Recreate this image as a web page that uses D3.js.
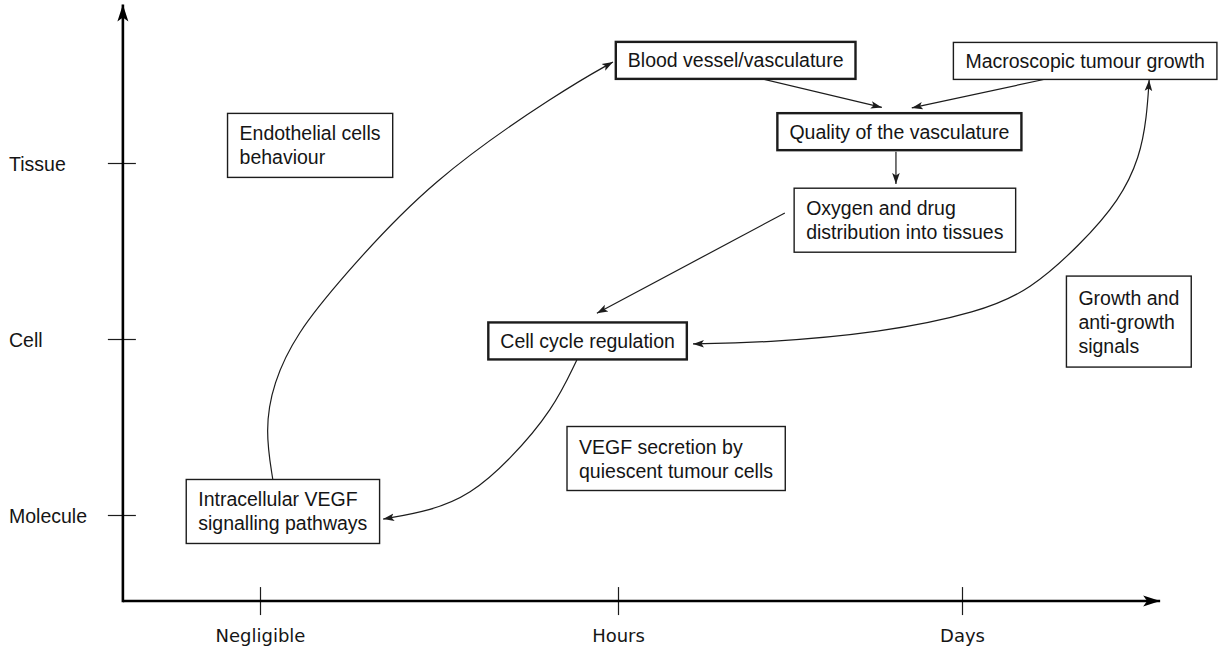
<!DOCTYPE html>
<html>
<head>
<meta charset="utf-8">
<script src="https://cdn.jsdelivr.net/npm/d3@7"></script>
<style>
  html, body { margin: 0; padding: 0; background: #fff; }
  svg { display: block; }
  .node text, .yaxis text { font-family: "Liberation Sans", Arial, sans-serif; font-size: 19.5px; fill: #151515; }
  .xaxis text { font-family: "DejaVu Sans", sans-serif; font-size: 18px; fill: #151515; }
</style>
</head>
<body>
<svg id="chart" width="1229" height="655"></svg>
<script>
// axis categories (time scale on x, biological scale on y)
const timeLabels = ['Negligible', 'Hours', 'Days'];
const scaleLabels = ['Molecule', 'Cell', 'Tissue'];

// boxes: text lines and where they sit in (time, scale) units
const nodes = [
  {id: 'endo',   lines: ['Endothelial cells', 'behaviour'],              t: 0.14,  s: 2.10},
  {id: 'blood',  lines: ['Blood vessel/vasculature'],                    t: 1.342, s: 2.583},
  {id: 'macro',  lines: ['Macroscopic tumour growth'],                   t: 2.358, s: 2.58},
  {id: 'qual',   lines: ['Quality of the vasculature'],                  t: 1.818, s: 2.178},
  {id: 'oxy',    lines: ['Oxygen and drug', 'distribution into tissues'], t: 1.834, s: 1.675},
  {id: 'cycle',  lines: ['Cell cycle regulation'],                       t: 0.915, s: 0.989},
  {id: 'growth', lines: ['Growth and', 'anti-growth', 'signals'],        t: 2.485, s: 1.099},
  {id: 'vegf',   lines: ['VEGF secretion by', 'quiescent tumour cells'],  t: 1.169, s: 0.321},
  {id: 'intra',  lines: ['Intracellular VEGF', 'signalling pathways'],   t: 0.064, s: 0.02}
];

// arrows, as points in (time, scale) units
const links = [
  {from: 'intra', to: 'blood', pts: [[0.036,0.199],[0.014,0.48],[0.036,0.75],[0.103,1.034],[0.223,1.335],[0.475,1.903],[0.846,2.415],[0.986,2.574]]},
  {from: 'blood', to: 'qual', pts: [[1.407,2.483],[1.767,2.316]]},
  {from: 'macro', to: 'qual', pts: [[2.241,2.476],[1.854,2.313]]},
  {from: 'qual', to: 'oxy', pts: [[1.808,2.064],[1.808,1.881]]},
  {from: 'oxy', to: 'cycle', pts: [[1.485,1.716],[0.941,1.146]]},
  {from: 'cycle', to: 'macro', both: true, pts: [[1.218,0.972],[1.422,0.979],[1.762,1.034],[2.052,1.153],[2.198,1.278],[2.343,1.534],[2.459,1.79],[2.517,2.034],[2.537,2.26],[2.544,2.472]]},
  {from: 'cycle', to: 'intra', pts: [[0.885,0.881],[0.818,0.597],[0.698,0.313],[0.587,0.114],[0.475,0.023],[0.344,-0.023]]}
];

const thickBoxes = ['blood', 'qual', 'cycle'];
const tExtent = [-0.383, 2.576];
const sExtent = [-0.489, 2.9];

const svg = d3.select('#chart');
const ink = '#1c1c1c';

const x = d3.scaleLinear().domain([0, 1, 2]).range([260, 618, 962]);
const y = d3.scaleLinear().domain([0, 2]).range([515, 163]);

// arrow markers
const defs = svg.append('defs');
defs.append('marker')
  .attr('id', 'head').attr('markerUnits', 'userSpaceOnUse')
  .attr('viewBox', '0 -5 12 10').attr('refX', 11).attr('refY', 0)
  .attr('markerWidth', 12).attr('markerHeight', 10)
  .attr('orient', 'auto-start-reverse')
  .append('path').attr('d', 'M0,-3.8L11,0L0,3.8L2.5,0Z').attr('fill', ink);
defs.append('marker')
  .attr('id', 'axhead').attr('markerUnits', 'userSpaceOnUse')
  .attr('viewBox', '0 -7 18 14').attr('refX', 17).attr('refY', 0)
  .attr('markerWidth', 18).attr('markerHeight', 14)
  .attr('orient', 'auto')
  .append('path').attr('d', 'M0,-5.5L17,0L0,5.5L4,0Z').attr('fill', '#000');

// axes
const y0 = y(sExtent[0]);
const x0 = x(tExtent[0]);

const xAxis = svg.append('g').attr('class', 'xaxis')
  .attr('transform', `translate(0,${y0})`)
  .call(d3.axisBottom(x).tickValues([0, 1, 2]).tickFormat(i => timeLabels[i]).tickSize(14));
xAxis.select('.domain').remove();
xAxis.selectAll('.tick line').attr('y1', -14).attr('y2', 14).attr('stroke', ink).attr('stroke-width', 1.2);
xAxis.selectAll('.tick text').attr('y', 41).attr('dy', 0).attr('fill', ink);

const yAxis = svg.append('g').attr('class', 'yaxis')
  .attr('transform', `translate(${x0},0)`)
  .call(d3.axisLeft(y).tickValues([0, 1, 2]).tickFormat(i => scaleLabels[i]).tickSize(15));
yAxis.select('.domain').remove();
yAxis.selectAll('.tick line').attr('x1', 13).attr('x2', -15).attr('stroke', ink).attr('stroke-width', 1.2);
yAxis.selectAll('.tick text').attr('x', 9 - x0).attr('dy', '0.36em').attr('text-anchor', 'start').attr('fill', ink);

svg.append('line')
  .attr('x1', x0).attr('y1', y0).attr('x2', x(tExtent[1])).attr('y2', y0)
  .attr('stroke', '#000').attr('stroke-width', 2.6).attr('marker-end', 'url(#axhead)');
svg.append('line')
  .attr('x1', x0).attr('y1', y0 + 1.3).attr('x2', x0).attr('y2', y(sExtent[1]))
  .attr('stroke', '#000').attr('stroke-width', 2.6).attr('marker-end', 'url(#axhead)');

// links (smoothed through the read points)
const line = d3.line()
  .x(d => x(d[0]))
  .y(d => y(d[1]))
  .curve(d3.curveBasis);

svg.append('g').selectAll('path')
  .data(links)
  .join('path')
  .attr('d', d => line(d.pts))
  .attr('fill', 'none')
  .attr('stroke', ink)
  .attr('stroke-width', 1.2)
  .attr('marker-end', 'url(#head)')
  .attr('marker-start', d => d.both ? 'url(#head)' : null);

// boxes
const padX = 12, lineH = 24;
const node = svg.append('g').selectAll('g')
  .data(nodes)
  .join('g')
  .attr('class', 'node')
  .attr('transform', d => `translate(${x(d.t)},${y(d.s)})`);

node.each(function(d) {
  const g = d3.select(this);
  const n = d.lines.length;
  const text = g.append('text');
  d.lines.forEach((l, i) => {
    text.append('tspan').attr('x', 0).attr('y', -(n - 1) * lineH / 2 + 7 + i * lineH).text(l);
  });
  const w = text.node().getBBox().width + 2 * padX;
  const h = 27 * n + 10;
  text.selectAll('tspan').attr('x', -w / 2 + padX);
  g.insert('rect', 'text')
    .attr('x', -w / 2).attr('y', -h / 2)
    .attr('width', w).attr('height', h)
    .attr('fill', '#fff')
    .attr('stroke', ink)
    .attr('stroke-width', thickBoxes.includes(d.id) ? 2.4 : 1.4);
});
</script>
</body>
</html>
